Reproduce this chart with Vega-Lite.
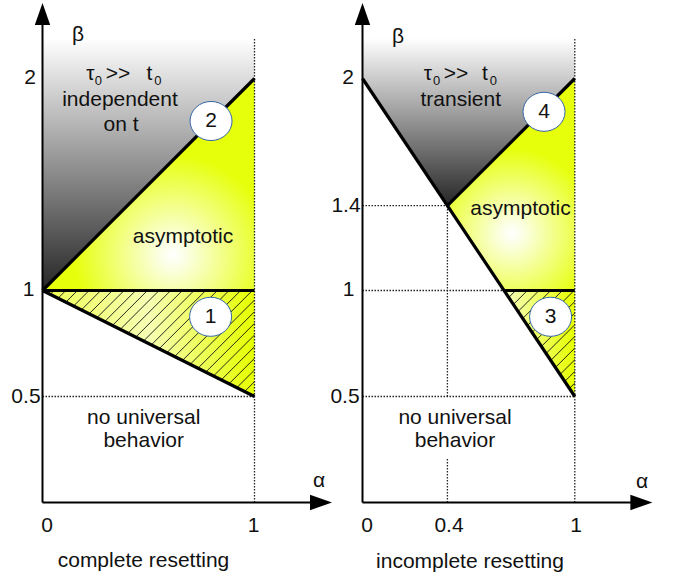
{
"$schema":"https://vega.github.io/schema/vega-lite/v6.json",
"width":675,"height":578,"padding":0,
"autosize":{"type":"fit","contains":"padding"},
"config":{"view":{"stroke":null},"text":{"font":"Liberation Sans","color":"#111"}},
"datasets":{
"grayL":[{"a":0,"b":1,"b2":2.19},{"a":1,"b":2,"b2":2.19}],
"yelL":[{"a":0,"b":1,"b2":1},{"a":1,"b":1,"b2":2}],
"hatchAreaL":[{"a":0,"b":1,"b2":1},{"a":1,"b":0.5,"b2":1}],
"grayR":[{"a":0,"b":2,"b2":2.19},{"a":0.4,"b":1.4,"b2":2.19},{"a":1,"b":2,"b2":2.19}],
"yelR":[{"a":0.4,"b":1.4,"b2":1.4},{"a":0.6667,"b":1,"b2":1.6667},{"a":1,"b":1,"b2":2}],
"hatchAreaR":[{"a":0.6667,"b":1,"b2":1},{"a":1,"b":0.5,"b2":1}],
"hatchL":[
{"a":0.0367,"b":0.9817,"a2":0.055,"b2":1},{"a":0.0733,"b":0.9633,"a2":0.11,"b2":1},{"a":0.11,"b":0.945,"a2":0.165,"b2":1},
{"a":0.1467,"b":0.9267,"a2":0.22,"b2":1},{"a":0.1833,"b":0.9083,"a2":0.275,"b2":1},{"a":0.22,"b":0.89,"a2":0.33,"b2":1},
{"a":0.2567,"b":0.8717,"a2":0.385,"b2":1},{"a":0.2933,"b":0.8533,"a2":0.44,"b2":1},{"a":0.33,"b":0.835,"a2":0.495,"b2":1},
{"a":0.3667,"b":0.8167,"a2":0.55,"b2":1},{"a":0.4033,"b":0.7983,"a2":0.605,"b2":1},{"a":0.44,"b":0.78,"a2":0.66,"b2":1},
{"a":0.4767,"b":0.7617,"a2":0.715,"b2":1},{"a":0.5133,"b":0.7433,"a2":0.77,"b2":1},{"a":0.55,"b":0.725,"a2":0.825,"b2":1},
{"a":0.5867,"b":0.7067,"a2":0.88,"b2":1},{"a":0.6233,"b":0.6883,"a2":0.935,"b2":1},{"a":0.66,"b":0.67,"a2":0.99,"b2":1},
{"a":0.6967,"b":0.6517,"a2":1,"b2":0.955},{"a":0.7333,"b":0.6333,"a2":1,"b2":0.9},{"a":0.77,"b":0.615,"a2":1,"b2":0.845},
{"a":0.8067,"b":0.5967,"a2":1,"b2":0.79},{"a":0.8433,"b":0.5783,"a2":1,"b2":0.735},{"a":0.88,"b":0.56,"a2":1,"b2":0.68},
{"a":0.9167,"b":0.5417,"a2":1,"b2":0.625},{"a":0.9533,"b":0.5233,"a2":1,"b2":0.57},{"a":0.99,"b":0.505,"a2":1,"b2":0.515}],
"hatchR":[
{"a":0.6887,"b":0.967,"a2":0.7217,"b2":1},{"a":0.7107,"b":0.934,"a2":0.7767,"b2":1},{"a":0.7327,"b":0.901,"a2":0.8317,"b2":1},
{"a":0.7547,"b":0.868,"a2":0.8867,"b2":1},{"a":0.7767,"b":0.835,"a2":0.9417,"b2":1},{"a":0.7987,"b":0.802,"a2":0.9967,"b2":1},
{"a":0.8207,"b":0.769,"a2":1,"b2":0.9483},{"a":0.8427,"b":0.736,"a2":1,"b2":0.8933},{"a":0.8647,"b":0.703,"a2":1,"b2":0.8383},
{"a":0.8867,"b":0.67,"a2":1,"b2":0.7833},{"a":0.9087,"b":0.637,"a2":1,"b2":0.7283},{"a":0.9307,"b":0.604,"a2":1,"b2":0.6733},
{"a":0.9527,"b":0.571,"a2":1,"b2":0.6183},{"a":0.9747,"b":0.538,"a2":1,"b2":0.5633},{"a":0.9967,"b":0.505,"a2":1,"b2":0.5083}],
"thickL":[{"a":0,"b":1,"a2":1,"b2":2},{"a":0,"b":1,"a2":1,"b2":1},{"a":0,"b":1,"a2":1,"b2":0.5}],
"thickR":[{"a":0,"b":2,"a2":1,"b2":0.5},{"a":0.4,"b":1.4,"a2":1,"b2":2},{"a":0.6667,"b":1,"a2":1,"b2":1}],
"dotL":[{"a":1,"b":0,"a2":1,"b2":2.19},{"a":0,"b":0.5,"a2":1,"b2":0.5}],
"dotR":[{"a":1,"b":0,"a2":1,"b2":2.19},{"a":0.4,"b":0,"a2":0.4,"b2":0.207},{"a":0.4,"b":0.5,"a2":0.4,"b2":1.4},{"a":0,"b":1.4,"a2":0.4,"b2":1.4},{"a":0,"b":1,"a2":0.6667,"b2":1},{"a":0,"b":0.5,"a2":1,"b2":0.5}],
"axes":[{"a":0,"b":0,"a2":0,"b2":2.26},{"a":0,"b":0,"a2":1.27,"b2":0}],
"arrowUp":[{"a":0,"b":2.3042}],
"arrowRight":[{"a":1.3137,"b":0}],
"circL":[{"a":0.795,"b":1.7995,"t":"2"},{"a":0.793,"b":0.876,"t":"1"}],
"circR":[{"a":0.855,"b":1.843,"t":"4"},{"a":0.886,"b":0.876,"t":"3"}],
"mainL":[{"a":0.2264,"b":1.9929,"t":"τ"},{"a":0.3561,"b":1.9929,"t":">>"},{"a":0.5047,"b":1.9929,"t":"t"},
{"a":0.3656,"b":1.8703,"t":"independent"},{"a":0.3703,"b":1.7524,"t":"on t"},{"a":0.6627,"b":1.2241,"t":"asymptotic"},
{"a":0.4774,"b":0.3703,"t":"no universal"},{"a":0.4774,"b":0.2618,"t":"behavior"},{"a":0.4764,"b":-0.3042,"t":"complete resetting"}],
"subL":[{"a":0.2631,"b":1.967,"t":"0"},{"a":0.5437,"b":1.967,"t":"0"}],
"midL":[{"a":0.1675,"b":2.2052,"t":"β"},{"a":-0.059,"b":2,"t":"2"},{"a":-0.066,"b":1,"t":"1"},{"a":-0.078,"b":0.5,"t":"0.5"},
{"a":0.0212,"b":-0.1108,"t":"0"},{"a":0.9953,"b":-0.1108,"t":"1"},{"a":1.3042,"b":0.1014,"t":"α"}],
"mainR":[{"a":0.3085,"b":1.9929,"t":"τ"},{"a":0.4404,"b":1.9929,"t":">>"},{"a":0.577,"b":1.9929,"t":"t"},
{"a":0.4626,"b":1.8703,"t":"transient"},{"a":0.7442,"b":1.3561,"t":"asymptotic"},
{"a":0.4357,"b":0.3703,"t":"no universal"},{"a":0.4357,"b":0.2618,"t":"behavior"},{"a":0.5064,"b":-0.309,"t":"incomplete resetting"}],
"subR":[{"a":0.3486,"b":1.967,"t":"0"},{"a":0.6159,"b":1.967,"t":"0"}],
"midR":[{"a":0.1672,"b":2.1958,"t":"β"},{"a":-0.0683,"b":2,"t":"2"},{"a":-0.0777,"b":1.4,"t":"1.4"},{"a":-0.0659,"b":1,"t":"1"},{"a":-0.0824,"b":0.5,"t":"0.5"},
{"a":0.0212,"b":-0.1108,"t":"0"},{"a":0.4074,"b":-0.1108,"t":"0.4"},{"a":1.0056,"b":-0.1108,"t":"1"},{"a":1.3165,"b":0.095,"t":"α"}]
},
"layer":[
{
"encoding":{
"x":{"field":"a","type":"quantitative","scale":{"domain":[-0.20047,2.98349],"nice":false,"zero":false},"axis":null},
"y":{"field":"b","type":"quantitative","scale":{"domain":[-0.35613,2.37028],"nice":false,"zero":false},"axis":null}},
"layer":[
{"data":{"name":"grayL"},"mark":{"type":"area","fill":{"gradient":"linear","x1":0,"y1":0,"x2":0,"y2":1,"stops":[{"offset":0,"color":"#ffffff"},{"offset":1,"color":"#262626"}]}},"encoding":{"y2":{"field":"b2"}}},
{"data":{"name":"yelL"},"mark":{"type":"area","fill":{"gradient":"radial","x1":0.615,"y1":0.83,"r1":0,"x2":0.615,"y2":0.83,"r2":0.47,"stops":[{"offset":0,"color":"#ffffff"},{"offset":0.15,"color":"#fbffe0"},{"offset":1,"color":"#e6ff0a"}]}},"encoding":{"y2":{"field":"b2"}}},
{"data":{"name":"hatchAreaL"},"mark":{"type":"area","fill":{"gradient":"linear","x1":0,"y1":0,"x2":1,"y2":0,"stops":[{"offset":0,"color":"#eeff50"},{"offset":0.5,"color":"#f6ffb4"},{"offset":1,"color":"#e6ff00"}]}},"encoding":{"y2":{"field":"b2"}}},
{"data":{"name":"hatchL"},"mark":{"type":"rule","color":"#111","strokeWidth":0.9},"encoding":{"x2":{"field":"a2"},"y2":{"field":"b2"}}},
{"data":{"name":"dotL"},"mark":{"type":"rule","color":"#222","strokeWidth":1.3,"strokeDash":[1.5,1.5]},"encoding":{"x2":{"field":"a2"},"y2":{"field":"b2"}}},
{"data":{"name":"thickL"},"mark":{"type":"rule","color":"#000","strokeWidth":3.2},"encoding":{"x2":{"field":"a2"},"y2":{"field":"b2"}}},
{"data":{"name":"axes"},"mark":{"type":"rule","color":"#000","strokeWidth":2},"encoding":{"x2":{"field":"a2"},"y2":{"field":"b2"}}},
{"data":{"name":"arrowUp"},"mark":{"type":"point","shape":"M-0.7,1L0,-1L0.7,1Z","size":484,"filled":true,"color":"#000","opacity":1}},
{"data":{"name":"arrowRight"},"mark":{"type":"point","shape":"M-1,-0.7L1,0L-1,0.7Z","size":484,"filled":true,"color":"#000","opacity":1}},
{"data":{"name":"circL"},"mark":{"type":"point","shape":"M-1,0A1,0.93,0,1,1,1,0A1,0.93,0,1,1,-1,0Z","size":1764,"filled":true,"fill":"#ffffff","stroke":"#3465a4","strokeWidth":1,"opacity":1}},
{"data":{"name":"circL"},"mark":{"type":"text","fontSize":21,"align":"center","baseline":"middle"},"encoding":{"text":{"field":"t"}}},
{"data":{"name":"mainL"},"mark":{"type":"text","fontSize":21,"align":"center","baseline":"alphabetic"},"encoding":{"text":{"field":"t"}}},
{"data":{"name":"subL"},"mark":{"type":"text","fontSize":13,"align":"center","baseline":"alphabetic"},"encoding":{"text":{"field":"t"}}},
{"data":{"name":"midL"},"mark":{"type":"text","fontSize":21,"align":"center","baseline":"middle"},"encoding":{"text":{"field":"t"}}}
]},
{
"encoding":{
"x":{"field":"a","type":"quantitative","scale":{"domain":[-1.70749,1.47197],"nice":false,"zero":false},"axis":null},
"y":{"field":"b","type":"quantitative","scale":{"domain":[-0.35613,2.37028],"nice":false,"zero":false},"axis":null}},
"layer":[
{"data":{"name":"grayR"},"mark":{"type":"area","fill":{"gradient":"linear","x1":0,"y1":0,"x2":0,"y2":1,"stops":[{"offset":0,"color":"#ffffff"},{"offset":1,"color":"#262626"}]}},"encoding":{"y2":{"field":"b2"}}},
{"data":{"name":"yelR"},"mark":{"type":"area","fill":{"gradient":"radial","x1":0.504,"y1":0.73,"r1":0,"x2":0.504,"y2":0.73,"r2":0.4,"stops":[{"offset":0,"color":"#ffffff"},{"offset":0.15,"color":"#fbffe0"},{"offset":1,"color":"#e6ff0a"}]}},"encoding":{"y2":{"field":"b2"}}},
{"data":{"name":"hatchAreaR"},"mark":{"type":"area","fill":{"gradient":"linear","x1":0,"y1":0,"x2":1,"y2":0,"stops":[{"offset":0,"color":"#f6ffc0"},{"offset":1,"color":"#e6ff00"}]}},"encoding":{"y2":{"field":"b2"}}},
{"data":{"name":"hatchR"},"mark":{"type":"rule","color":"#111","strokeWidth":0.9},"encoding":{"x2":{"field":"a2"},"y2":{"field":"b2"}}},
{"data":{"name":"dotR"},"mark":{"type":"rule","color":"#222","strokeWidth":1.3,"strokeDash":[1.5,1.5]},"encoding":{"x2":{"field":"a2"},"y2":{"field":"b2"}}},
{"data":{"name":"thickR"},"mark":{"type":"rule","color":"#000","strokeWidth":3.2},"encoding":{"x2":{"field":"a2"},"y2":{"field":"b2"}}},
{"data":{"name":"axes"},"mark":{"type":"rule","color":"#000","strokeWidth":2},"encoding":{"x2":{"field":"a2"},"y2":{"field":"b2"}}},
{"data":{"name":"arrowUp"},"mark":{"type":"point","shape":"M-0.7,1L0,-1L0.7,1Z","size":484,"filled":true,"color":"#000","opacity":1}},
{"data":{"name":"arrowRight"},"mark":{"type":"point","shape":"M-1,-0.7L1,0L-1,0.7Z","size":484,"filled":true,"color":"#000","opacity":1}},
{"data":{"name":"circR"},"mark":{"type":"point","shape":"M-1,0A1,0.93,0,1,1,1,0A1,0.93,0,1,1,-1,0Z","size":1764,"filled":true,"fill":"#ffffff","stroke":"#3465a4","strokeWidth":1,"opacity":1}},
{"data":{"name":"circR"},"mark":{"type":"text","fontSize":21,"align":"center","baseline":"middle"},"encoding":{"text":{"field":"t"}}},
{"data":{"name":"mainR"},"mark":{"type":"text","fontSize":21,"align":"center","baseline":"alphabetic"},"encoding":{"text":{"field":"t"}}},
{"data":{"name":"subR"},"mark":{"type":"text","fontSize":13,"align":"center","baseline":"alphabetic"},"encoding":{"text":{"field":"t"}}},
{"data":{"name":"midR"},"mark":{"type":"text","fontSize":21,"align":"center","baseline":"middle"},"encoding":{"text":{"field":"t"}}}
]}
],
"resolve":{"scale":{"x":"independent"}}
}
